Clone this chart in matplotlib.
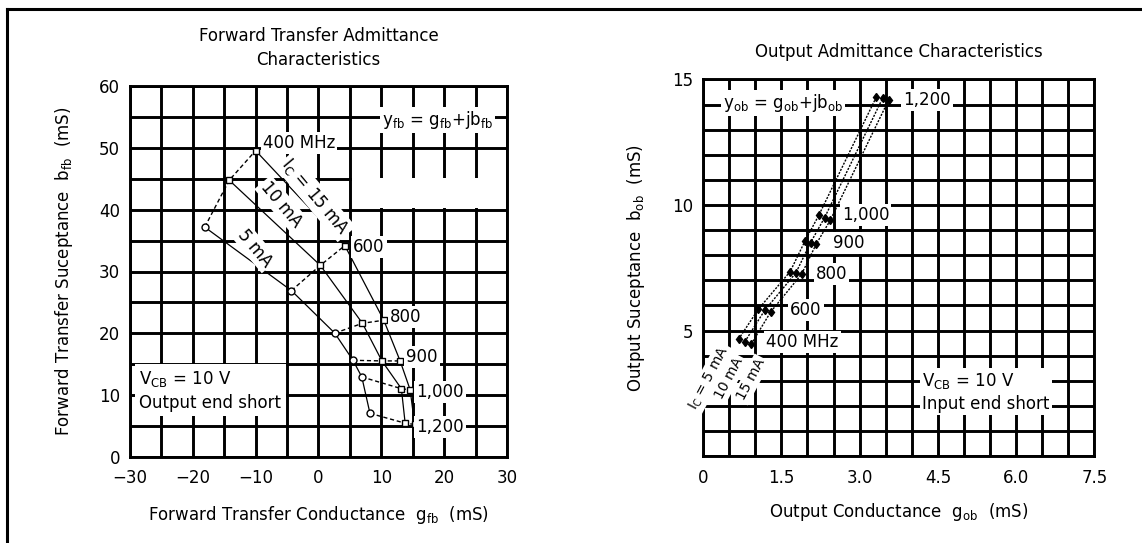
import numpy as np
import matplotlib
matplotlib.use("Agg")
import matplotlib.pyplot as plt
from matplotlib.lines import Line2D
from matplotlib.patches import Rectangle

plt.rcParams['font.family'] = ['DejaVu Sans']
plt.rcParams['mathtext.default'] = 'regular'
plt.rcParams['axes.unicode_minus'] = True

freqs = [400, 600, 800, 900, 1000, 1200]
freq_labels = ['400 MHz', '600', '800', '900', '1,000', '1,200']

# forward transfer admittance, g_fb / b_fb in mS, per collector current
fwd_g_15 = [-10.0, 4.2, 10.4, 13.0, 14.6, 15.3]
fwd_b_15 = [49.6, 34.2, 22.1, 15.5, 10.8, 5.2]
fwd_g_10 = [-14.2, 0.3, 7.0, 10.1, 13.2, 13.8]
fwd_b_10 = [44.8, 31.0, 21.6, 15.5, 11.0, 5.4]
fwd_g_5 = [-18.1, -4.3, 2.6, 5.5, 6.9, 8.2]
fwd_b_5 = [37.2, 26.9, 20.0, 15.6, 12.9, 7.0]

# output admittance, g_ob / b_ob in mS
out_g_5 = [0.68, 1.06, 1.67, 1.95, 2.22, 3.32]
out_b_5 = [4.65, 5.85, 7.35, 8.55, 9.6, 14.3]
out_g_10 = [0.80, 1.18, 1.78, 2.06, 2.33, 3.44]
out_b_10 = [4.55, 5.80, 7.30, 8.50, 9.5, 14.25]
out_g_15 = [0.92, 1.30, 1.89, 2.17, 2.44, 3.56]
out_b_15 = [4.45, 5.75, 7.25, 8.45, 9.4, 14.2]

FS = 12
white = dict(facecolor='white', edgecolor='none', pad=1.5)

fig = plt.figure(figsize=(11.42, 5.43), dpi=100)

# border lines (top and left)
fig.add_artist(Line2D([0.0061, 1.0], [0.984, 0.984], color='black', lw=2.2))
fig.add_artist(Line2D([0.0061, 0.0061], [0.0, 0.984], color='black', lw=2.2))


def setup_grid(ax):
    ax.set_axisbelow(True)
    ax.grid(which='both', color='black', lw=2.1)
    ax.tick_params(which='both', length=0, labelsize=FS)
    for s in ax.spines.values():
        s.set_linewidth(2.1)


# ---------------- left: forward transfer admittance ----------------
ax1 = fig.add_axes([0.1138, 0.1593, 0.3301, 0.6814])
ax1.set_xlim(-30, 30)
ax1.set_ylim(0, 60)
ax1.set_xticks(np.arange(-30, 31, 10))
ax1.set_xticks(np.arange(-25, 30, 10), minor=True)
ax1.set_yticks(np.arange(0, 61, 10))
ax1.set_yticks(np.arange(5, 60, 10), minor=True)
setup_grid(ax1)
ax1.tick_params(axis='y', pad=7)
ax1.tick_params(axis='x', pad=9)

# blank patch of the grid under the current labels
ax1.add_patch(Rectangle((5.3, 40.3), 24.6, 4.9, facecolor='white',
                        edgecolor='none', zorder=1))

curves = [(fwd_g_15, fwd_b_15), (fwd_g_10, fwd_b_10), (fwd_g_5, fwd_b_5)]
for k, (g, b) in enumerate(curves):
    mk = 'o' if k == 2 else 's'
    ax1.plot(g, b, color='black', lw=0.9, marker=mk, ms=5, mfc='white',
             mec='black', mew=1.0, zorder=4)

# constant frequency lines
for i in range(len(freqs)):
    gs = [fwd_g_5[i], fwd_g_10[i], fwd_g_15[i]]
    bs = [fwd_b_5[i], fwd_b_10[i], fwd_b_15[i]]
    ax1.plot(gs, bs, color='black', lw=1.0, ls=(0, (3, 2)), zorder=3)

lab_pos = [(-8.9, 50.8), (5.5, 34.0), (11.4, 22.7), (14.0, 16.2),
           (15.6, 10.5), (15.6, 4.8)]
for (x, y), t in zip(lab_pos, freq_labels):
    ax1.text(x, y, t, fontsize=FS, ha='left', va='center', bbox=white, zorder=5)

ax1.text(-0.5, 42.1, 'I$_C$ = 15 mA', fontsize=FS, rotation=-50,
         ha='center', va='center', rotation_mode='anchor', bbox=white, zorder=5)
ax1.text(-5.9, 40.9, '10 mA', fontsize=FS, rotation=-50,
         ha='center', va='center', rotation_mode='anchor', bbox=white, zorder=5)
ax1.text(-10.1, 33.8, '5 mA', fontsize=FS, rotation=-50,
         ha='center', va='center', rotation_mode='anchor', bbox=white, zorder=5)

ax1.text(27.8, 54.6, 'y$_{fb}$ = g$_{fb}$+jb$_{fb}$', fontsize=FS,
         ha='right', va='center', bbox=white, zorder=5)
ax1.text(-28.5, 10.7, 'V$_{CB}$ = 10 V\nOutput end short', fontsize=FS,
         ha='left', va='center', linespacing=1.35,
         bbox=dict(facecolor='white', edgecolor='none', pad=3), zorder=5)

ax1.text(0.5, 1.104, 'Forward Transfer Admittance\nCharacteristics',
         transform=ax1.transAxes, fontsize=FS, ha='center', va='center',
         linespacing=1.4)
ax1.set_xlabel('Forward Transfer Conductance  g$_{fb}$  (mS)', fontsize=FS)
ax1.set_ylabel('Forward Transfer Suceptance  b$_{fb}$  (mS)', fontsize=FS)
ax1.xaxis.set_label_coords(0.5, -0.128)
ax1.yaxis.set_label_coords(-0.146, 0.5)

# ---------------- right: output admittance ----------------
ax2 = fig.add_axes([0.6156, 0.1602, 0.3428, 0.6934])
ax2.set_xlim(0, 7.5)
ax2.set_ylim(0, 15)
ax2.set_xticks(np.arange(0, 7.6, 1.5))
ax2.set_xticklabels(['0', '1.5', '3.0', '4.5', '6.0', '7.5'])
ax2.set_xticks(np.arange(0, 7.6, 0.5), minor=True)
ax2.set_yticks([5, 10, 15])
ax2.set_yticks(np.arange(0, 15.1, 1), minor=True)
setup_grid(ax2)
ax2.tick_params(axis='y', pad=7)
ax2.tick_params(axis='x', pad=9)

for g, b in [(out_g_5, out_b_5), (out_g_10, out_b_10), (out_g_15, out_b_15)]:
    ax2.plot(g, b, color='black', lw=1.0, ls=(0, (1.5, 1)), marker='d',
             ms=4.5, mfc='black', mec='black', zorder=4)

out_lab_pos = [(1.21, 4.56), (1.67, 5.8), (2.16, 7.26), (2.49, 8.5),
               (2.66, 9.6), (3.83, 14.18)]
for (x, y), t in zip(out_lab_pos, freq_labels):
    ax2.text(x, y, t, fontsize=FS, ha='left', va='center', bbox=white, zorder=5)

for (x, y), t in zip([(0.12, 3.1), (0.5, 3.1), (0.92, 3.05)],
                     ['I$_C$ = 5 mA', '10 mA', '15 mA']):
    ax2.text(x, y, t, fontsize=FS - 2, rotation=62, ha='center', va='center',
             rotation_mode='anchor', bbox=white, zorder=6, clip_on=False)

ax2.text(0.38, 14.05, 'y$_{ob}$ = g$_{ob}$+jb$_{ob}$', fontsize=FS,
         ha='left', va='center', bbox=white, zorder=5)
ax2.text(4.2, 2.55, 'V$_{CB}$ = 10 V\nInput end short', fontsize=FS,
         ha='left', va='center', linespacing=1.35, bbox=white, zorder=5)

ax2.text(0.5, 1.072, 'Output Admittance Characteristics',
         transform=ax2.transAxes, fontsize=FS, ha='center', va='center')
ax2.set_xlabel('Output Conductance  g$_{ob}$  (mS)', fontsize=FS)
ax2.set_ylabel('Output Suceptance  b$_{ob}$  (mS)', fontsize=FS)
ax2.xaxis.set_label_coords(0.5, -0.119)
ax2.yaxis.set_label_coords(-0.143, 0.5)

fig.savefig('out.png', dpi=100)
